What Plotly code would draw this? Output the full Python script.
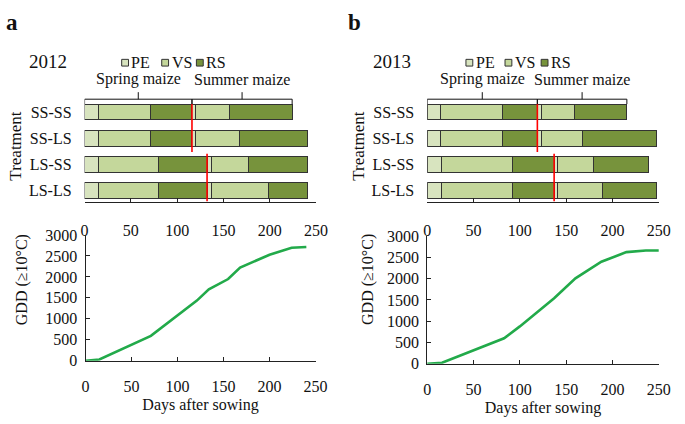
import plotly.graph_objects as go

W, H = 685, 424
FONT = "Liberation Serif"

# ---------------- data ----------------
treatments = ["SS-SS", "SS-LS", "LS-SS", "LS-LS"]
phases = ["PE", "VS", "RS"]
phase_colors = ["#d8e4bf", "#c4d79b", "#77933c"]

# phase durations (days), order follows `treatments`
spring_pe_2012 = [15.5, 15.5, 15.5, 15.5]
spring_vs_2012 = [55.3, 55.3, 64.0, 64.0]
spring_rs_2012 = [45.2, 45.2, 52.8, 52.8]
summer_pe_2012 = [4.2, 4.2, 5.0, 5.0]
summer_vs_2012 = [36.0, 47.4, 39.6, 61.0]
summer_rs_2012 = [68.0, 73.3, 63.8, 42.4]

spring_pe_2013 = [14.7, 14.7, 15.8, 15.8]
spring_vs_2013 = [66.8, 66.8, 76.6, 76.6]
spring_rs_2013 = [37.4, 37.4, 44.6, 44.6]
summer_pe_2013 = [4.0, 4.0, 4.1, 4.1]
summer_vs_2013 = [36.1, 44.6, 38.7, 47.9]
summer_rs_2013 = [56.5, 79.5, 59.0, 58.0]

# growing degree days
days_2012 = [0, 15, 71, 100, 121, 134, 155, 168, 200, 224, 240]
gdd_2012 = [0, 30, 595, 1075, 1435, 1705, 1950, 2225, 2530, 2695, 2715]
days_2013 = [0, 16, 83, 100, 137, 160, 188, 215, 236, 250]
gdd_2013 = [0, 25, 600, 880, 1540, 2010, 2400, 2625, 2665, 2665]

x_ticks = [0, 50, 100, 150, 200, 250]
y_ticks = [0, 500, 1000, 1500, 2000, 2500, 3000]


def px(x):
    return x / W


def py(y):
    return 1 - y / H


fig = go.Figure()

years = [
    ("2012", "x", "y", [spring_pe_2012, spring_vs_2012, spring_rs_2012],
     [summer_pe_2012, summer_vs_2012, summer_rs_2012]),
    ("2013", "x2", "y2", [spring_pe_2013, spring_vs_2013, spring_rs_2013],
     [summer_pe_2013, summer_vs_2013, summer_rs_2013]),
]

for year, xa, ya, spring, summer in years:
    for season, segs in (("Spring", spring), ("Summer", summer)):
        for name, col, vals in zip(phases, phase_colors, segs):
            fig.add_trace(go.Bar(
                y=treatments, x=vals, orientation="h", name=f"{season} {name}",
                marker=dict(color=col, line=dict(color="#333333", width=1)),
                width=0.6, xaxis=xa, yaxis=ya, showlegend=False,
                hoverinfo="x+y+name",
            ))

fig.add_trace(go.Scatter(x=days_2012, y=gdd_2012, mode="lines",
                         line=dict(color="#22aa4a", width=2.6),
                         xaxis="x3", yaxis="y3", showlegend=False))
fig.add_trace(go.Scatter(x=days_2013, y=gdd_2013, mode="lines",
                         line=dict(color="#22aa4a", width=2.6),
                         xaxis="x4", yaxis="y4", showlegend=False))

tick_font = dict(family=FONT, size=16, color="#111")
cat_order = list(reversed(treatments))

bar_x = dict(range=[0, 250], tickvals=x_ticks, showline=True, linecolor="#222",
             linewidth=1, ticks="inside", ticklen=4, tickcolor="#222",
             showgrid=False, zeroline=False, tickfont=tick_font,
             ticklabelstandoff=14)
bar_y = dict(type="category", categoryorder="array", categoryarray=cat_order,
             range=[-0.417, 3.82], showline=False, ticks="", showgrid=False,
             zeroline=False, tickfont=tick_font, ticklabelstandoff=12)
gdd_x = dict(range=[0, 250], tickvals=x_ticks, showline=True, linecolor="#222",
             linewidth=1, ticks="inside", ticklen=4, tickcolor="#222",
             showgrid=False, zeroline=False, tickfont=tick_font,
             ticklabelstandoff=11,
             title=dict(text="Days after sowing", font=dict(family=FONT, size=16, color="#111"),
                        standoff=4))
gdd_y = dict(range=[0, 3000], tickvals=y_ticks, showline=True, linecolor="#222",
             linewidth=1, ticks="inside", ticklen=4, tickcolor="#222",
             showgrid=False, zeroline=False, tickfont=tick_font,
             ticklabelstandoff=4)

fig.update_layout(
    width=W, height=H, margin=dict(l=0, r=0, t=0, b=0),
    paper_bgcolor="white", plot_bgcolor="white",
    barmode="stack", bargap=0.4,
    font=dict(family=FONT, size=16, color="#111"),
    xaxis=dict(bar_x, domain=[px(82.5), px(319.5)], anchor="y"),
    yaxis=dict(bar_y, domain=[py(201.7), py(85.9)], anchor="x",
               title=dict(text="Treatment", font=dict(family=FONT, size=17, color="#111"),
                          standoff=2)),
    xaxis2=dict(bar_x, domain=[px(433.3), px(670.5)], anchor="y2"),
    yaxis2=dict(bar_y, domain=[py(201.7), py(85.9)], anchor="x2",
                title=dict(text="Treatment", font=dict(family=FONT, size=17, color="#111"),
                           standoff=2)),
    xaxis3=dict(gdd_x, domain=[px(83.5), px(319)], anchor="y3"),
    yaxis3=dict(gdd_y, domain=[py(367.5), py(236.5)], anchor="x3"),
    xaxis4=dict(gdd_x, domain=[px(433.3), px(670.5)], anchor="y4"),
    yaxis4=dict(gdd_y, domain=[py(370.7), py(237.7)], anchor="x4"),
)

shapes = []
annotations = []

# season boundary lines and season brackets (derived from data)
for (year, xa, ya, spring, summer), lab, title_x, leg_x, gdd_tx in zip(
        years, ["a", "b"], [44.7, 397.7], [(120.5, 161.5, 197), (473, 513, 550)],
        [18, 372]):
    spring_end = [sum(v) for v in zip(*spring)]
    total = [s + sum(v) for s, v in zip(spring_end, zip(*summer))]
    ss_end, ls_end = spring_end[0], spring_end[2]
    shapes.append(dict(type="line", xref=xa, yref=ya, x0=ss_end, x1=ss_end,
                       y0=3.3, y1=1.47, line=dict(color="#ff0000", width=1.6)))
    shapes.append(dict(type="line", xref=xa, yref=ya, x0=ls_end, x1=ls_end,
                       y0=1.41, y1=-0.417, line=dict(color="#ff0000", width=1.6)))
    # brackets over SS-SS row
    for a0, a1, txt in ((0, ss_end, "Spring maize"), (ss_end, total[0], "Summer maize")):
        bl = dict(color="#111", width=1)
        shapes.append(dict(type="line", xref=xa, yref=ya, x0=a0, x1=a1, y0=3.487, y1=3.487, line=bl))
        shapes.append(dict(type="line", xref=xa, yref=ya, x0=a0, x1=a0, y0=3.3, y1=3.487, line=bl))
        shapes.append(dict(type="line", xref=xa, yref=ya, x0=a1, x1=a1, y0=3.3, y1=3.487, line=bl))
        mid = (a0 + a1) / 2
        shapes.append(dict(type="line", xref=xa, yref=ya, x0=mid, x1=mid, y0=3.487, y1=3.755, line=bl))
        annotations.append(dict(text=txt, xref=xa, yref="paper", x=mid, y=py(74),
                                showarrow=False, xanchor="center", yanchor="middle",
                                font=dict(family=FONT, size=16, color="#111")))
    # year label
    annotations.append(dict(text=year, xref="paper", yref="paper", x=px(title_x), y=py(56),
                            showarrow=False, xanchor="center", yanchor="middle",
                            font=dict(family=FONT, size=19, color="#111")))
    # panel letter
    lx = 8.5 if lab == "a" else 358.8
    annotations.append(dict(text=f"<b>{lab}</b>", xref="paper", yref="paper", x=px(lx), y=py(15),
                            showarrow=False, xanchor="center", yanchor="middle",
                            font=dict(family=FONT, size=23, color="#111")))
    # legend
    for name, col, sx in zip(phases, phase_colors, leg_x):
        shapes.append(dict(type="rect", xref="paper", yref="paper",
                           x0=px(sx), x1=px(sx + 7), y0=py(60.5), y1=py(53.5),
                           fillcolor=col, line=dict(color="#333", width=1)))
        annotations.append(dict(text=name, xref="paper", yref="paper", x=px(sx + 8), y=py(57),
                                showarrow=False, xanchor="left", yanchor="middle",
                                font=dict(family=FONT, size=16, color="#111")))
    # GDD y title
    annotations.append(dict(text="GDD (≥10°C)", xref="paper", yref="paper",
                            x=px(gdd_tx), y=py(283), textangle=-90,
                            showarrow=False, xanchor="center", yanchor="middle",
                            font=dict(family=FONT, size=16, color="#111")))

fig.update_layout(shapes=shapes, annotations=annotations)

fig.write_html("out.html", config={"displayModeBar": False},
               post_script="document.body.style.margin='0';document.body.style.overflow='hidden';")
